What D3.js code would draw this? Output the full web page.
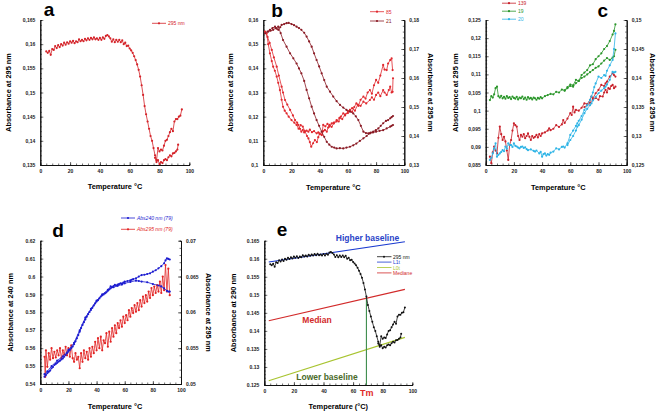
<!DOCTYPE html>
<html>
<head>
<meta charset="utf-8">
<script src="https://cdn.jsdelivr.net/npm/d3@7"></script>
<style>
  body { margin: 0; background: #fff; }
  svg { font-family: "Liberation Sans", Arial, sans-serif; }
</style>
</head>
<body>
<div id="chart"></div>
<script>
// Panel a (and e) : 295 nm, heating run and lower return branch
const aHeat = [[4,0.1585],[5,0.1582],[6,0.1586],[7,0.1578],[8,0.1590],[9,0.1588],[10,0.1596],[11,0.1592],[12,0.1598],[13,0.1594],[14,0.1600],[15,0.1597],[16,0.1603],[17,0.1599],[18,0.1604],[19,0.1601],[20,0.1606],[21,0.1603],[22,0.1607],[23,0.1602],[24,0.1606],[25,0.1604],[26,0.1610],[27,0.1606],[28,0.1609],[29,0.1606],[30,0.1611],[31,0.1608],[32,0.1612],[33,0.1609],[34,0.1613],[35,0.1610],[36,0.1614],[37,0.1610],[38,0.1612],[39,0.1609],[40,0.1613],[41,0.1609],[42,0.1614],[43,0.1611],[44,0.1617],[45,0.1619],[46,0.1616],[47,0.1612],[48,0.1605],[49,0.1610],[50,0.1604],[51,0.1609],[52,0.1605],[53,0.1609],[54,0.1604],[55,0.1608],[56,0.1600],[57,0.1603],[58,0.1596],[59,0.1597],[60,0.1591],[61,0.1587],[62,0.1582],[63,0.1575],[64,0.1567],[65,0.1558],[66,0.1547],[67,0.1533],[68,0.1515],[69,0.1495],[70,0.1472],[71,0.1455],[72,0.1440],[73,0.1425],[74,0.1410],[75,0.1400],[76,0.1385],[77,0.1370],[78,0.1360],[79,0.1385],[80,0.1378],[81,0.1382],[82,0.1380],[83,0.1390],[84,0.1400],[85,0.1402],[86,0.1410],[87,0.1418],[88,0.1425],[89,0.1420],[90,0.1440],[91,0.1445],[92,0.1445],[93,0.1450],[94,0.1452],[95,0.1465]];
const aTail = [[77,0.1365],[78,0.1356],[79,0.1360],[80,0.1352],[81,0.1356],[82,0.1354],[83,0.1360],[84,0.1362],[85,0.1360],[86,0.1366],[87,0.1370],[88,0.1368],[89,0.1374],[90,0.1375],[91,0.1378],[92,0.1382],[92.5,0.1392]];

// Panel b : series 85 (left axis) and 21 (right axis)
const b85a = [[1.2,0.1552],[3,0.1530],[4.5,0.1505],[6,0.1476],[7.5,0.1445],[9.5,0.1407],[11,0.1370],[13,0.1324],[14,0.1300],[15.4,0.1269],[17,0.1250],[19,0.1228],[21,0.1205],[22.5,0.1186],[24,0.1175],[24.8,0.1166],[26,0.1150],[27,0.1138],[28,0.1145],[29,0.1135],[30.7,0.1142],[32,0.1138],[33,0.1146],[34.5,0.1136],[36,0.1140],[37.8,0.1131],[39,0.1135],[40,0.1128],[41.4,0.1124],[42.5,0.1166],[44,0.1160],[45.5,0.1170],[47,0.1159],[48.5,0.1172],[50,0.1175],[52,0.1186],[53.5,0.1180],[55,0.1200],[56.7,0.1214],[58,0.1205],[60,0.1222],[61.5,0.1228],[63,0.1220],[64.5,0.1240],[66,0.1255],[67.5,0.1245],[69,0.1270],[71,0.1283],[72.5,0.1275],[74,0.1300],[75.6,0.1310],[77,0.1295],[78.5,0.1330],[80,0.1352],[81.5,0.1340],[83,0.1370],[85,0.1414],[86,0.1395],[87.5,0.1393],[88.5,0.1420],[90,0.1434],[91,0.1441],[91.7,0.1393]];
const b85b = [[2.4,0.1545],[3.5,0.1500],[4.7,0.1462],[6,0.1430],[7,0.1407],[8.2,0.1390],[9.5,0.1366],[10.6,0.1340],[11.8,0.1310],[13,0.1270],[14,0.1241],[15.2,0.1225],[16.5,0.1214],[18,0.1200],[20,0.1186],[22,0.1175],[23.6,0.1166],[25,0.1150],[26.5,0.1165],[28,0.1159],[29.5,0.1140],[31,0.1120],[32,0.1110],[33,0.1095],[34,0.1076],[35.3,0.1090],[36.6,0.1103],[38,0.1095],[39,0.1115],[40,0.1131],[41.5,0.1125],[42.5,0.1140],[43.7,0.1145],[45,0.1138],[46,0.1155],[47,0.1166],[48.5,0.1158],[50,0.1172],[52,0.1180],[54,0.1195],[56,0.1190],[58,0.1210],[60,0.1215],[61.5,0.1228],[63,0.1235],[65,0.1225],[67,0.1250],[69,0.1245],[71,0.1262],[73,0.1255],[75.6,0.1269],[77,0.1280],[78.5,0.1270],[80,0.1290],[81.5,0.1300],[83,0.1285],[85,0.1310],[86,0.1300],[87.5,0.1290],[89,0.1310],[90,0.1324],[91,0.1300],[91.7,0.1303],[92,0.1359]];
const b21a = [[1.2,0.1754],[3,0.1760],[4.7,0.1766],[6.5,0.1772],[8.3,0.1777],[9.5,0.1770],[10.6,0.1766],[12,0.1775],[13,0.1783],[14.8,0.1786],[16.5,0.1789],[18,0.1790],[20,0.1786],[21.8,0.1782],[23.6,0.1777],[25.3,0.1772],[27,0.1766],[29,0.1756],[30.7,0.1743],[32.5,0.1726],[34.3,0.1708],[36,0.1685],[37.8,0.1662],[39.6,0.1640],[41.4,0.1616],[43.2,0.1593],[45,0.1570],[47.3,0.1553],[49.6,0.1536],[52,0.1520],[54.4,0.1507],[56.7,0.1498],[59,0.1490],[61.5,0.1484],[63.8,0.1478],[65.6,0.1468],[67.4,0.1455],[69.2,0.1435],[71,0.1415],[72.8,0.1410],[74.5,0.1409],[76.2,0.1412],[78,0.1415],[79.8,0.1420],[81.6,0.1426],[83.3,0.1435],[85,0.1444],[87,0.1452],[88.5,0.1455],[90,0.1461],[91,0.1465],[92,0.1469]];
const b21b = [[3.5,0.1760],[5.2,0.1763],[7,0.1766],[8.8,0.1772],[10.6,0.1777],[12.3,0.1755],[14,0.1731],[16.5,0.1708],[19,0.1685],[21.3,0.1668],[23.6,0.1650],[25.3,0.1633],[27,0.1616],[29,0.1590],[30.7,0.1559],[32.5,0.1530],[34.3,0.1501],[36,0.1478],[37.8,0.1455],[39.6,0.1435],[41.4,0.1415],[43.2,0.1397],[45,0.1380],[46.8,0.1370],[48.5,0.1363],[50.3,0.1360],[52,0.1357],[54.3,0.1358],[56.7,0.1357],[59,0.1360],[61.5,0.1363],[63.8,0.1368],[66,0.1374],[68.5,0.1383],[71,0.1392],[73.3,0.1400],[75.6,0.1409],[77.8,0.1412],[80,0.1415],[82.5,0.1418],[85,0.1420],[87.5,0.1426],[90,0.1432],[91,0.1435],[92,0.1438]];

// Panel c : series 139, 19, 20
const c139a = [[3,0.0873],[4,0.0855],[5,0.0885],[6,0.0901],[7,0.0890],[8,0.0882],[9,0.0925],[10,0.0956],[11,0.0935],[12,0.0919],[13,0.0928],[14,0.0915],[15,0.0890],[16,0.0864],[17,0.0905],[18,0.0919],[19,0.0945],[20,0.0965],[21,0.0960],[22,0.0956],[23,0.0930],[24,0.0919],[25,0.0933],[26,0.0928],[27,0.0935],[28,0.0924],[29,0.0930],[30,0.0937],[31,0.0928],[32,0.0919],[33,0.0930],[34,0.0925],[35,0.0928],[36,0.0933],[37,0.0926],[38,0.0935],[39,0.0930],[40,0.0937],[42,0.0940],[44,0.0945],[45,0.0951],[46,0.0946],[48,0.0950],[50,0.0960],[52,0.0955],[54,0.0962],[55,0.0974],[56,0.0966],[58,0.0978],[60,0.0993],[61,0.0988],[62,0.1011],[63,0.0995],[64,0.1002],[66,0.1000],[68,0.1008],[70,0.1020],[72,0.1018],[74,0.1030],[75,0.1039],[76,0.1034],[78,0.1048],[80,0.1057],[82,0.1071],[84,0.1068],[85,0.1075],[86,0.1080],[88,0.1094],[90,0.1103],[91,0.1098],[92,0.1094]];
const c139b = [[70,0.1010],[72,0.1015],[74,0.1022],[76,0.1030],[78,0.1035],[80,0.1030],[81,0.1040],[83,0.1039],[84,0.1050],[85,0.1057],[86,0.1050],[87,0.1062],[88,0.1060],[89,0.1068],[90,0.1071],[91,0.1062],[92,0.1066]];
const c19a = [[3,0.1029],[4,0.1040],[5,0.1036],[6,0.1045],[7,0.1062],[8,0.1066],[9,0.1040],[10,0.1036],[11,0.1041],[12,0.1034],[13,0.1038],[14,0.1033],[15,0.1040],[16,0.1035],[17,0.1037],[18,0.1032],[19,0.1039],[20,0.1035],[21,0.1033],[22,0.1038],[23,0.1031],[24,0.1036],[25,0.1034],[26,0.1039],[27,0.1032],[28,0.1036],[29,0.1030],[30,0.1037],[31,0.1033],[32,0.1035],[33,0.1031],[34,0.1036],[35,0.1034],[36,0.1030],[37,0.1035],[38,0.1033],[39,0.1037],[40,0.1034],[42,0.1040],[44,0.1043],[46,0.1046],[48,0.1045],[50,0.1052],[52,0.1050],[54,0.1058],[56,0.1056],[58,0.1065],[60,0.1072],[62,0.1070],[64,0.1085],[66,0.1082],[68,0.1098],[70,0.1105],[72,0.1112],[74,0.1125],[76,0.1128],[78,0.1142],[80,0.1150],[82,0.1158],[84,0.1170],[86,0.1178],[88,0.1192],[90,0.1210],[91,0.1220],[92,0.1238]];
const c19b = [[56,0.1055],[58,0.1062],[60,0.1068],[62,0.1066],[64,0.1076],[66,0.1082],[68,0.1090],[70,0.1094],[72,0.1100],[74,0.1106],[76,0.1112],[78,0.1118],[80,0.1122],[82,0.1130],[84,0.1138],[86,0.1145],[88,0.1140],[90,0.1146],[91,0.1150],[92,0.1168]];
const c20a = [[3,0.0864],[4,0.0870],[5,0.0882],[6,0.0895],[7,0.0910],[8,0.0873],[9,0.0878],[10,0.0882],[11,0.0886],[12,0.0891],[13,0.0888],[14,0.0901],[15,0.0895],[16,0.0910],[17,0.0905],[18,0.0905],[19,0.0900],[20,0.0910],[21,0.0903],[22,0.0901],[23,0.0898],[24,0.0896],[25,0.0900],[26,0.0901],[27,0.0897],[28,0.0899],[29,0.0894],[30,0.0891],[32,0.0893],[34,0.0889],[35,0.0887],[36,0.0890],[38,0.0882],[39,0.0886],[40,0.0873],[41,0.0880],[42,0.0882],[43,0.0876],[44,0.0880],[45,0.0878],[46,0.0884],[48,0.0887],[50,0.0896],[52,0.0893],[54,0.0900],[55,0.0901],[56,0.0898],[58,0.0910],[60,0.0933],[62,0.0945],[64,0.0958],[65,0.0965],[66,0.0972],[68,0.0985],[70,0.1002],[72,0.1015],[74,0.1030],[75,0.1039],[76,0.1050],[77,0.1065],[78,0.1075],[80,0.1094],[82,0.1090],[84,0.1098],[85,0.1096],[86,0.1110],[88,0.1125],[90,0.1140],[91,0.1170],[92,0.1213]];
const c20b = [[58,0.0905],[60,0.0919],[62,0.0930],[64,0.0945],[65,0.0956],[66,0.0960],[68,0.0975],[70,0.0993],[72,0.1005],[74,0.1015],[75,0.1020],[76,0.1028],[78,0.1038],[80,0.1048],[82,0.1055],[84,0.1062],[85,0.1066],[86,0.1072],[88,0.1085],[90,0.1107],[91,0.1105],[92,0.1107]];

// Panel d : Abs240 (left axis) and Abs295 (right axis)
const d240a = [[3,0.5441],[4,0.5450],[5,0.5460],[6,0.5468],[7,0.5475],[8,0.5488],[9,0.5495],[10,0.5506],[11,0.5512],[12,0.5518],[13,0.5525],[14,0.5530],[15,0.5537],[16,0.5543],[17,0.5552],[18,0.5562],[19,0.5572],[20,0.5581],[21,0.5590],[22,0.5600],[23,0.5609],[24,0.5622],[25,0.5638],[26,0.5655],[27,0.5673],[28,0.5692],[29,0.5712],[30,0.5730],[31,0.5745],[32,0.5760],[33,0.5776],[34,0.5790],[35,0.5802],[36,0.5813],[37,0.5825],[38,0.5838],[39,0.5850],[40,0.5860],[41,0.5868],[42,0.5878],[43,0.5888],[44,0.5895],[45,0.5900],[46,0.5906],[47,0.5912],[48,0.5920],[49,0.5928],[50,0.5934],[51,0.5940],[52,0.5946],[53,0.5953],[54,0.5950],[55,0.5955],[56,0.5958],[57,0.5962],[58,0.5960],[59,0.5966],[60,0.5971],[62,0.5975],[64,0.5978],[65,0.5982],[66,0.5985],[68,0.5990],[70,0.6000],[72,0.6008],[74,0.6010],[76,0.6014],[78,0.6018],[80,0.6027],[82,0.6035],[84,0.6046],[86,0.6058],[88,0.6074],[89,0.6090],[90,0.6101],[91,0.6098],[92,0.6095]];
const d240b = [[3,0.5455],[5,0.5470],[8,0.5500],[12,0.5530],[16,0.5555],[20,0.5590],[24,0.5630],[28,0.5700],[32,0.5770],[36,0.5820],[40,0.5865],[44,0.5900],[48,0.5925],[50,0.5945],[52,0.5940],[55,0.5948],[58,0.5955],[60,0.5962],[64,0.5970],[68,0.5977],[70,0.5975],[72,0.5972],[76,0.5968],[80,0.5958],[84,0.5950],[86,0.5945],[88,0.5934],[90,0.5920],[91,0.5916],[92,0.5916]];
const d295 = [[3,0.0538],[3.5,0.0510],[4,0.0547],[5,0.0524],[6,0.0543],[7,0.0534],[8,0.0550],[9,0.0536],[10,0.0545],[11,0.0537],[12,0.0547],[13,0.0540],[14,0.0550],[15,0.0536],[16,0.0547],[17,0.0541],[18,0.0552],[19,0.0540],[20,0.0550],[21,0.0538],[22,0.0554],[23,0.0536],[24,0.0531],[25,0.0543],[26,0.0534],[27,0.0538],[28,0.0522],[29,0.0543],[30,0.0531],[31,0.0547],[32,0.0536],[33,0.0545],[34,0.0534],[35,0.0550],[36,0.0538],[37,0.0552],[38,0.0543],[39,0.0559],[40,0.0547],[41,0.0564],[42,0.0550],[43,0.0566],[44,0.0547],[45,0.0561],[46,0.0557],[47,0.0571],[48,0.0552],[49,0.0573],[50,0.0559],[51,0.0578],[52,0.0566],[53,0.0582],[54,0.0571],[55,0.0585],[56,0.0578],[57,0.0589],[58,0.0580],[59,0.0594],[60,0.0585],[61,0.0596],[62,0.0589],[63,0.0603],[64,0.0594],[65,0.0606],[66,0.0599],[67,0.0610],[68,0.0601],[69,0.0613],[70,0.0603],[71,0.0617],[72,0.0608],[73,0.0622],[74,0.0613],[75,0.0624],[76,0.0615],[77,0.0629],[78,0.0620],[79,0.0634],[80,0.0624],[81,0.0636],[82,0.0627],[83,0.0638],[84,0.0629],[85,0.0643],[86,0.0627],[87,0.0650],[88,0.0631],[89,0.0666],[90,0.0629],[91,0.0661],[92,0.0624]];

// Panel e : baselines, median and Tm
const eHigh = [[3,0.1591],[95,0.1647]];
const eLow = [[3,0.1262],[95,0.1382]];
const eMedian = [[3,0.1428],[95,0.1515]];
const eTm = 69;
const eTmAbs = 0.1493;

const xTicks = [0, 20, 40, 60, 80, 100];

const svg = d3.select("#chart").append("svg")
    .attr("width", 658)
    .attr("height", 414);

function ticksOf(lo, hi, step) {
    const n = Math.round((hi - lo) / step);
    return d3.range(n + 1).map(i => +(lo + i * step).toFixed(4));
}

function minorOf(lo, hi, step, k) {
    const n = Math.round((hi - lo) / step) * k;
    return d3.range(n + 1).map(i => +(lo + i * step / k).toFixed(5));
}

/*
Draws the frame of one panel: x axis, left axis, optional right axis,
titles and panel letter. Returns the scales.
*/
function panel(p) {
    const g = svg.append("g");
    const fmt = d => p.comma ? String(d).replace(".", ",") : String(d);
    const x = d3.scaleLinear().domain([0, 100]).range([p.x0, p.x1]);
    const y = d3.scaleLinear().domain(p.yL).range([p.y1, p.y0]);
    let yR = null;

    // minor ticks
    g.append("g").attr("transform", `translate(0,${p.y1})`)
        .call(d3.axisBottom(x).tickValues(minorOf(0, 100, 20, 5)).tickSize(-1.5).tickFormat(""));
    g.append("g").attr("transform", `translate(${p.x0},0)`)
        .call(d3.axisLeft(y).tickValues(minorOf(p.yL[0], p.yL[1], p.yLstep, 5)).tickSize(-1.5).tickFormat(""));

    g.append("g").attr("transform", `translate(0,${p.y1})`)
        .call(d3.axisBottom(x).tickValues(xTicks).tickSize(-3).tickSizeOuter(0).tickPadding(4).tickFormat(d => d));
    g.append("g").attr("transform", `translate(${p.x0},0)`)
        .call(d3.axisLeft(y).tickValues(ticksOf(p.yL[0], p.yL[1], p.yLstep)).tickSize(-3).tickSizeOuter(0).tickPadding(5).tickFormat(fmt));

    if (p.yR) {
        yR = d3.scaleLinear().domain(p.yR).range([p.y1, p.y0]);
        g.append("g").attr("transform", `translate(${p.x1},0)`)
            .call(d3.axisRight(yR).tickValues(minorOf(p.yR[0], p.yR[1], p.yRstep, 5)).tickSize(-1.5).tickFormat(""));
        g.append("g").attr("transform", `translate(${p.x1},0)`)
            .call(d3.axisRight(yR).tickValues(ticksOf(p.yR[0], p.yR[1], p.yRstep)).tickSize(-3).tickSizeOuter(0).tickPadding(5).tickFormat(fmt));
    }

    g.selectAll(".tick text").style("font-size", "5px").style("font-weight", "bold").attr("fill", "#222");
    g.selectAll(".domain").attr("stroke", "#111").attr("stroke-width", 1);
    g.selectAll(".tick line").attr("stroke", "#111").attr("stroke-width", 0.6);

    const midY = (p.y0 + p.y1) / 2;
    g.append("text")
        .attr("transform", `translate(${p.titleL},${midY}) rotate(-90)`)
        .attr("text-anchor", "middle").attr("dominant-baseline", "central")
        .style("font-size", "7.4px").style("font-weight", "bold")
        .text(p.yTitle);
    if (p.yTitleR) {
        g.append("text")
            .attr("transform", `translate(${p.titleR},${midY}) rotate(90)`)
            .attr("text-anchor", "middle").attr("dominant-baseline", "central")
            .style("font-size", "7.4px").style("font-weight", "bold")
            .text(p.yTitleR);
    }
    g.append("text")
        .attr("x", p.xTitleX).attr("y", p.xTitleY)
        .attr("text-anchor", "middle").attr("dominant-baseline", "central")
        .style("font-size", "7.4px").style("font-weight", "bold")
        .text(p.xTitle);
    g.append("text")
        .attr("x", p.letter[1]).attr("y", p.letter[2])
        .attr("text-anchor", "middle").attr("dominant-baseline", "central")
        .style("font-size", "19px").style("font-weight", "bold")
        .text(p.letter[0]);

    return { x, y, yR, g };
}

function series(g, x, y, data, color, r) {
    const line = d3.line().x(d => x(d[0])).y(d => y(d[1]));
    g.append("path")
        .attr("d", line(data))
        .attr("fill", "none")
        .attr("stroke", color)
        .attr("stroke-width", 0.8);
    g.selectAll(null)
        .data(data)
        .enter().append("circle")
        .attr("cx", d => x(d[0]))
        .attr("cy", d => y(d[1]))
        .attr("r", r === undefined ? 1.1 : r)
        .attr("fill", color);
}

function legend(items, x0, y0, dy, italic) {
    items.forEach((it, i) => {
        const yy = y0 + i * dy;
        svg.append("line")
            .attr("x1", x0).attr("x2", x0 + 14)
            .attr("y1", yy).attr("y2", yy)
            .attr("stroke", it[1]).attr("stroke-width", 0.8);
        svg.append("circle").attr("cx", x0 + 7).attr("cy", yy).attr("r", 1.1).attr("fill", it[1]);
        svg.append("text")
            .attr("x", x0 + 16).attr("y", yy)
            .attr("dominant-baseline", "central")
            .style("font-size", "5px")
            .style("font-style", italic ? "italic" : "normal")
            .attr("fill", it[1])
            .text(it[0]);
    });
}

// ---- a
const pa = panel({
    x0: 40.3, x1: 189.3, y0: 20, y1: 165, yL: [0.135, 0.165], yLstep: 0.005, comma: true,
    yTitle: "Absorbance at 295 nm", titleL: 8.5,
    xTitle: "Temperature °C", xTitleX: 115, xTitleY: 186,
    letter: ["a", 49, 9.5]
});
series(pa.g, pa.x, pa.y, aHeat, "#d42228");
series(pa.g, pa.x, pa.y, aTail, "#d42228");
legend([["295 nm", "#d42228"]], 152, 23.3, 0);

// ---- b
const pb = panel({
    x0: 263.3, x1: 404.3, y0: 20, y1: 165, yL: [0.1, 0.16], yLstep: 0.01, yR: [0.13, 0.18], yRstep: 0.01, comma: true,
    yTitle: "Absorbance at 295 nm", titleL: 230.7, yTitleR: "Absorbance at 295 nm", titleR: 430,
    xTitle: "Temperature °C", xTitleX: 333.3, xTitleY: 187,
    letter: ["b", 277, 10.5]
});
series(pb.g, pb.x, pb.y, b85a, "#e0282e");
series(pb.g, pb.x, pb.y, b85b, "#e0282e");
series(pb.g, pb.x, pb.yR, b21a, "#8a1a24");
series(pb.g, pb.x, pb.yR, b21b, "#8a1a24");
legend([["85", "#e0282e"], ["21", "#8a1a24"]], 370, 11.7, 9.3);

// ---- c
const pc = panel({
    x0: 485.7, x1: 626.7, y0: 20, y1: 165, yL: [0.085, 0.125], yLstep: 0.005, yR: [0.125, 0.15], yRstep: 0.005, comma: true,
    yTitle: "Absorbance at 295 nm", titleL: 455, yTitleR: "Absorbance at 295 nm", titleR: 652.5,
    xTitle: "Temperature °C", xTitleX: 558.3, xTitleY: 187,
    letter: ["c", 602.7, 10]
});
series(pc.g, pc.x, pc.y, c139a, "#c8202a");
series(pc.g, pc.x, pc.y, c139b, "#c8202a");
series(pc.g, pc.x, pc.y, c19a, "#2a962a");
series(pc.g, pc.x, pc.y, c19b, "#2a962a");
series(pc.g, pc.x, pc.y, c20a, "#2eb4e6");
series(pc.g, pc.x, pc.y, c20b, "#2eb4e6");
legend([["139", "#c8202a"], ["19", "#2a962a"], ["20", "#2eb4e6"]], 502, 3.2, 8);

// ---- d
const pd = panel({
    x0: 40.3, x1: 181, y0: 240.7, y1: 384, yL: [0.54, 0.62], yLstep: 0.01, yR: [0.05, 0.07], yRstep: 0.005, comma: false,
    yTitle: "Absorbance at 240 nm", titleL: 10, yTitleR: "Absorbance at 295 nm", titleR: 208.3,
    xTitle: "Temperature °C", xTitleX: 115, xTitleY: 406.7,
    letter: ["d", 58, 230]
});
series(pd.g, pd.x, pd.yR, d295, "#e22424");
series(pd.g, pd.x, pd.y, d240b, "#1c1cd0");
series(pd.g, pd.x, pd.y, d240a, "#1c1cd0");
legend([["Abs240 nm (79)", "#1c1cd0"], ["Abs295 nm (79)", "#e22424"]], 121, 218, 11.3, true);

// ---- e
const pe = panel({
    x0: 264.3, x1: 412.3, y0: 240.7, y1: 385, yL: [0.125, 0.165], yLstep: 0.005, comma: false,
    yTitle: "Absorbance at 290 nm", titleL: 233.3,
    xTitle: "Temperature (°C)", xTitleX: 338.3, xTitleY: 406.7,
    letter: ["e", 282, 229.5]
});
const eLine = d3.line().x(d => pe.x(d[0])).y(d => pe.y(d[1]));
pe.g.append("path").attr("d", eLine(eHigh)).attr("stroke", "#1a3ad0").attr("stroke-width", 1.1).attr("fill", "none");
pe.g.append("path").attr("d", eLine(eLow)).attr("stroke", "#a8c430").attr("stroke-width", 1.1).attr("fill", "none");
pe.g.append("path").attr("d", eLine(eMedian)).attr("stroke", "#d22a2a").attr("stroke-width", 1.1).attr("fill", "none");
pe.g.append("line")
    .attr("x1", pe.x(eTm)).attr("x2", pe.x(eTm))
    .attr("y1", pe.y(0.125)).attr("y2", pe.y(eTmAbs))
    .attr("stroke", "#3c8c4c").attr("stroke-width", 1.1);
series(pe.g, pe.x, pe.y, aHeat, "#111", 1);
series(pe.g, pe.x, pe.y, aTail, "#111", 1);

[["295 nm", "#111"], ["L1t", "#1a3ad0"], ["L0t", "#a8c430"], ["Mediane", "#d22a2a"]].forEach((it, i) => {
    const yy = 256.7 + i * 5.4;
    svg.append("line").attr("x1", 377).attr("x2", 391.5).attr("y1", yy).attr("y2", yy)
        .attr("stroke", it[1]).attr("stroke-width", 0.8);
    if (i === 0) svg.append("circle").attr("cx", 384).attr("cy", yy).attr("r", 1).attr("fill", it[1]);
    svg.append("text").attr("x", 393).attr("y", yy).attr("dominant-baseline", "central")
        .style("font-size", "5px").attr("fill", it[1]).text(it[0]);
});

const labels = [
    ["Higher baseline", 367.5, 238, "#2a44c8", 8.5],
    ["Median", 317, 320, "#d22a2a", 8.5],
    ["Lower baseline", 327, 377.3, "#4a6a2a", 8.5],
    ["Tm", 366.7, 393, "#e02a2a", 9]
];
labels.forEach(l => {
    svg.append("text")
        .attr("x", l[1]).attr("y", l[2])
        .attr("text-anchor", "middle").attr("dominant-baseline", "central")
        .style("font-size", l[4] + "px").style("font-weight", "bold")
        .attr("fill", l[3])
        .text(l[0]);
});
</script>
</body>
</html>
